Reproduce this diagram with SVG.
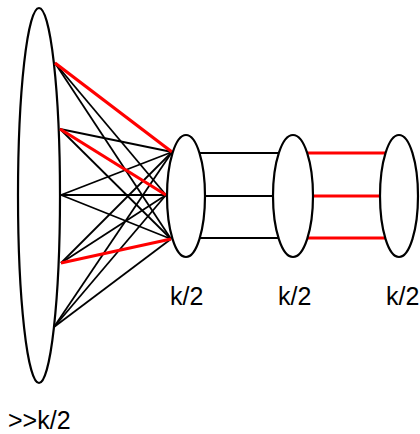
<svg xmlns="http://www.w3.org/2000/svg" width="420" height="434" viewBox="0 0 420 434">
<style>
.node{fill:#fff;stroke:#000;stroke-width:2.2}
.e{stroke:#000;stroke-width:1.8;fill:none}
.r{stroke:#f00;stroke-width:3.2;fill:none}
.t{font-family:"Liberation Sans",Arial,sans-serif;font-size:25px;fill:#000}
</style>
<rect width="420" height="434" fill="#fff"/>
<g id="big">
<ellipse class="node" cx="39" cy="195.5" rx="21" ry="187.5"/>
<text class="t" x="8" y="429">&gt;&gt;k/2</text>
</g>
<g id="connectors">
<line class="e" x1="55" y1="63" x2="166" y2="195"/>
<line class="e" x1="55" y1="63" x2="171" y2="239"/>
<line class="e" x1="60" y1="129" x2="172" y2="152"/>
<line class="e" x1="60" y1="129" x2="171" y2="239"/>
<line class="e" x1="61" y1="195" x2="172" y2="152"/>
<line class="e" x1="61" y1="195" x2="166" y2="195"/>
<line class="e" x1="61" y1="195" x2="171" y2="239"/>
<line class="e" x1="61" y1="263" x2="172" y2="152"/>
<line class="e" x1="61" y1="263" x2="166" y2="195"/>
<line class="e" x1="54" y1="327" x2="172" y2="152"/>
<line class="e" x1="54" y1="327" x2="166" y2="195"/>
<line class="e" x1="54" y1="327" x2="171" y2="239"/>
<line class="r" x1="55" y1="63" x2="172" y2="152"/>
<line class="r" x1="60" y1="129" x2="166" y2="195"/>
<line class="r" x1="61" y1="263" x2="171" y2="239"/>
<line class="e" x1="200" y1="153" x2="278" y2="153"/>
<line class="e" x1="205" y1="196" x2="273" y2="196"/>
<line class="e" x1="200" y1="238" x2="278" y2="238"/>
<line class="r" x1="307" y1="153" x2="387" y2="153"/>
<line class="r" x1="313" y1="196" x2="380" y2="196"/>
<line class="r" x1="307" y1="238" x2="387" y2="238"/>
</g>
<g id="n1">
<ellipse class="node" cx="186" cy="196" rx="19" ry="61"/>
<text class="t" x="170" y="305">k/2</text>
</g>
<g id="n2">
<ellipse class="node" cx="293" cy="196" rx="20" ry="61"/>
<text class="t" x="278" y="305">k/2</text>
</g>
<g id="n3">
<ellipse class="node" cx="399" cy="196" rx="19" ry="61"/>
<text class="t" x="386" y="305">k/2</text>
</g>
</svg>
